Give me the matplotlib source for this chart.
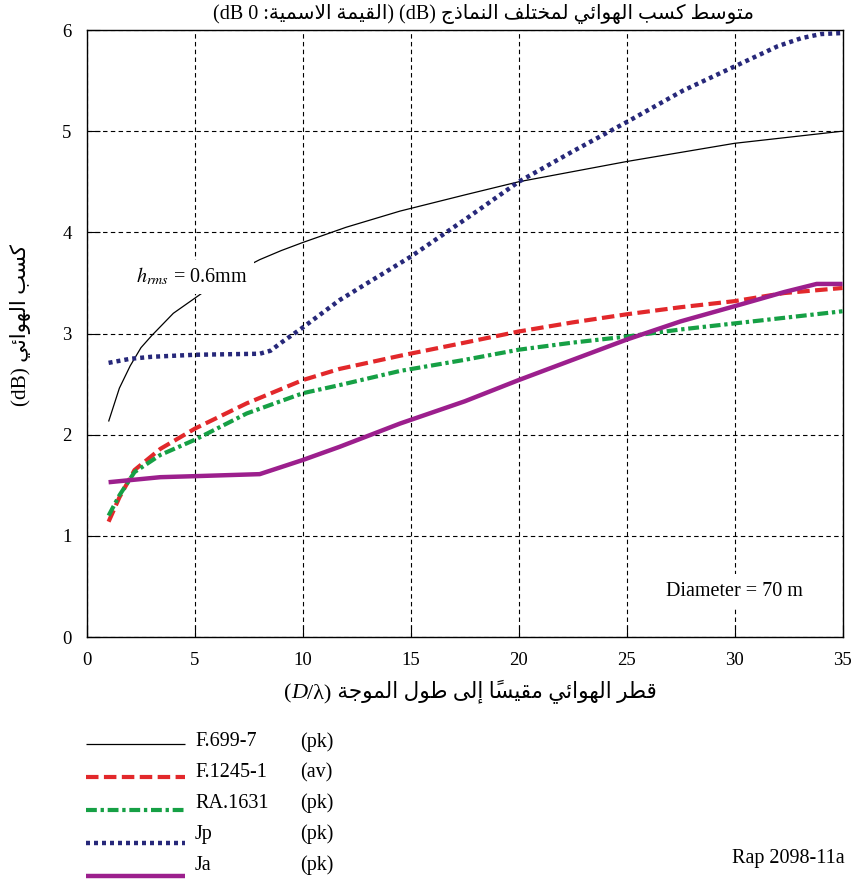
import matplotlib
matplotlib.use('Agg')
import matplotlib.pyplot as plt
from matplotlib.lines import Line2D
from matplotlib.offsetbox import TextArea, HPacker, AnnotationBbox

plt.rcParams['font.family'] = ['Liberation Serif', 'DejaVu Sans']
plt.rcParams['mathtext.fontset'] = 'stix'

# --- data (x = D/lambda, y = gain in dB) ---
f699_x = [1, 1.5, 2, 2.5, 3, 3.5, 4, 5, 6, 7, 8, 9, 10, 12, 14.5, 17.5, 20, 22.5, 25, 27.5, 30, 32.5, 35]
f699_y = [2.13, 2.46, 2.68, 2.86, 2.98, 3.09, 3.20, 3.35, 3.50, 3.62, 3.73, 3.82, 3.90, 4.05, 4.21, 4.37, 4.50,
          4.60, 4.70, 4.79, 4.88, 4.94, 5.00]

f1245_x = [1, 1.5, 2.2, 3.4, 5, 7.4, 10, 11.7, 14.5, 17.5, 20, 22.5, 25, 27.5, 30, 32.3, 35]
f1245_y = [1.14, 1.38, 1.65, 1.86, 2.06, 2.31, 2.54, 2.65, 2.78, 2.91, 3.02, 3.11, 3.19, 3.26, 3.32, 3.40, 3.45]

ra1631_x = [1, 1.5, 2.2, 3.4, 5, 7.4, 10, 11.7, 14.5, 17.5, 20, 22.5, 25, 27.5, 30, 32.5, 35]
ra1631_y = [1.20, 1.40, 1.63, 1.80, 1.95, 2.21, 2.41, 2.49, 2.63, 2.74, 2.84, 2.91, 2.97, 3.04, 3.10, 3.16, 3.22]

jp_x = [1, 2, 3, 5, 8, 8.5, 9, 10, 11.7, 13, 15, 17.6, 20, 22.5, 25, 27.6, 30, 32, 33.1, 34, 35]
jp_y = [2.71, 2.75, 2.77, 2.79, 2.80, 2.83, 2.91, 3.06, 3.33, 3.50, 3.76, 4.14, 4.50, 4.80, 5.09, 5.40, 5.64,
        5.84, 5.92, 5.96, 5.97]

ja_x = [1, 3.4, 5, 8, 10, 11.7, 14.5, 17.5, 20, 22.5, 25, 27.5, 30, 32.3, 33.8, 35]
ja_y = [1.53, 1.58, 1.59, 1.61, 1.75, 1.88, 2.11, 2.33, 2.54, 2.74, 2.94, 3.12, 3.27, 3.41, 3.49, 3.49]

legend_names = ['F.699-7', 'F.1245-1', 'RA.1631', 'Jp', 'Ja']
legend_tags = ['(pk)', '(av)', '(pk)', '(pk)', '(pk)']

x_ticks = [0, 5, 10, 15, 20, 25, 30, 35]
y_ticks = [0, 1, 2, 3, 4, 5, 6]

styles = [
    dict(color='black', lw=0.9, linestyle='-'),
    dict(color='#E2282B', lw=3.0, linestyle=(0, (3.0, 1.3))),
    dict(color='#16A045', lw=3.0, linestyle=(0, (2.6, 0.9, 0.8, 0.9))),
    dict(color='#27287A', lw=3.2, linestyle=(0, (0.9, 0.9))),
    dict(color='#9C1F8D', lw=3.2, linestyle='-'),
]

# --- minimal Arabic shaping (presentation forms) + visual reordering ---
FORMS = {
    'ا': (0xFE8D, 0xFE8E, None, None), 'إ': (0xFE87, 0xFE88, None, None),
    'ب': (0xFE8F, 0xFE90, 0xFE91, 0xFE92), 'ة': (0xFE93, 0xFE94, None, None),
    'ت': (0xFE95, 0xFE96, 0xFE97, 0xFE98), 'ج': (0xFE9D, 0xFE9E, 0xFE9F, 0xFEA0),
    'خ': (0xFEA5, 0xFEA6, 0xFEA7, 0xFEA8), 'ذ': (0xFEAB, 0xFEAC, None, None),
    'ر': (0xFEAD, 0xFEAE, None, None), 'س': (0xFEB1, 0xFEB2, 0xFEB3, 0xFEB4),
    'ط': (0xFEC1, 0xFEC2, 0xFEC3, 0xFEC4), 'ف': (0xFED1, 0xFED2, 0xFED3, 0xFED4),
    'ق': (0xFED5, 0xFED6, 0xFED7, 0xFED8), 'ك': (0xFED9, 0xFEDA, 0xFEDB, 0xFEDC),
    'ل': (0xFEDD, 0xFEDE, 0xFEDF, 0xFEE0), 'م': (0xFEE1, 0xFEE2, 0xFEE3, 0xFEE4),
    'ن': (0xFEE5, 0xFEE6, 0xFEE7, 0xFEE8), 'ه': (0xFEE9, 0xFEEA, 0xFEEB, 0xFEEC),
    'و': (0xFEED, 0xFEEE, None, None), 'ى': (0xFEEF, 0xFEF0, None, None),
    'ي': (0xFEF1, 0xFEF2, 0xFEF3, 0xFEF4), 'ئ': (0xFE89, 0xFE8A, 0xFE8B, 0xFE8C),
    'لا': (0xFEFB, 0xFEFC, None, None), 'لإ': (0xFEF9, 0xFEFA, None, None),
}
MARKS = {'\u064B'}


def rtl(text):
    # group into clusters: [base, marks]
    clusters = []
    for ch in text:
        if ch in MARKS and clusters:
            clusters[-1][1] += ch
        elif ch in ('ا', 'إ') and clusters and clusters[-1][0] == 'ل' and not clusters[-1][1]:
            clusters[-1][0] = 'ل' + ch
        else:
            clusters.append([ch, ''])
    out = []
    for i, (base, marks) in enumerate(clusters):
        if base not in FORMS:
            out.append(base + marks)
            continue
        iso, fin, ini, med = FORMS[base]
        prev = clusters[i - 1][0] if i > 0 else None
        nxt = clusters[i + 1][0] if i + 1 < len(clusters) else None
        jp = prev in FORMS and FORMS[prev][2] is not None
        jn = ini is not None and nxt in FORMS
        if jp and jn:
            code = med
        elif jp:
            code = fin
        elif jn:
            code = ini
        else:
            code = iso
        out.append(chr(code) + marks)
    return ''.join(reversed(out))


fig = plt.figure(figsize=(8.58, 8.85), dpi=100)
ax = fig.add_axes([0.1014, 0.2802, 0.8806, 0.6859])

series = [(f699_x, f699_y), (f1245_x, f1245_y), (ra1631_x, ra1631_y), (jp_x, jp_y), (ja_x, ja_y)]
order = [1, 2, 4, 3, 0]
for i in order:
    xs, ys = series[i]
    ax.plot(xs, ys, solid_capstyle='butt', dash_capstyle='butt', zorder=3 + i, **styles[i])

ax.set_xlim(0, 35)
ax.set_ylim(0, 6)
ax.set_xticks(x_ticks)
ax.set_yticks(y_ticks)
ax.grid(True, color='black', linestyle=(0, (4, 3)), linewidth=0.8)
ax.tick_params(direction='in', length=9, width=0.8, labelsize=13.5, pad=11)
for s in ax.spines.values():
    s.set_linewidth(1.0)

ax.text(4.85, 3.56, r'$h_{rms}$ = 0.6mm', fontsize=14.5, ha='center', va='center', zorder=20,
        bbox=dict(boxstyle='square,pad=0.3', fc='white', ec='none'))
ax.text(30.0, 0.45, 'Diameter = 70 m', fontsize=14.5, ha='center', va='center', zorder=20,
        bbox=dict(boxstyle='square,pad=0.4', fc='white', ec='none'))

# title, axis labels
title = '(dB 0 :' + rtl('القيمة الاسمية') + ') (dB) ' + rtl('متوسط كسب الهوائي لمختلف النماذج')
fig.text(0.563, 0.984, title, fontsize=14.5, ha='center', va='center')

ylab = '(dB) ' + rtl('كسب الهوائي')
fig.text(0.024, 0.633, ylab, fontsize=15.3, rotation=90, ha='center', va='center')

tp = dict(fontsize=16)
parts = [TextArea('(', textprops=tp), TextArea('D', textprops=dict(fontsize=16, style='italic')),
         TextArea('/λ)', textprops=tp), TextArea(' ' + rtl('قطر الهوائي مقيساً إلى طول الموجة'), textprops=dict(fontsize=15.5))]
xlab = HPacker(children=parts, align='baseline', pad=0, sep=0)
fig.add_artist(AnnotationBbox(xlab, (0.548, 0.218), xycoords='figure fraction', frameon=False,
                              box_alignment=(0.5, 0.5)))

# legend drawn below the axes
W, H = 858.0, 885.0
for i, name in enumerate(legend_names):
    ly = 1 - (744 + 33 * i) / H
    ty = 1 - (742 + 30.8 * i) / H
    fig.add_artist(Line2D([86 / W, 185 / W], [ly, ly], transform=fig.transFigure,
                          solid_capstyle='butt', dash_capstyle='butt', **styles[i]))
    fig.text(195 / W, ty, name, fontsize=14.5, ha='left', va='center')
    fig.text(300 / W, ty, legend_tags[i], fontsize=14.5, ha='left', va='center')

fig.text(845 / W, 1 - 858 / H, 'Rap 2098-11a', fontsize=14.5, ha='right', va='center')

fig.savefig('out.png', dpi=100)
